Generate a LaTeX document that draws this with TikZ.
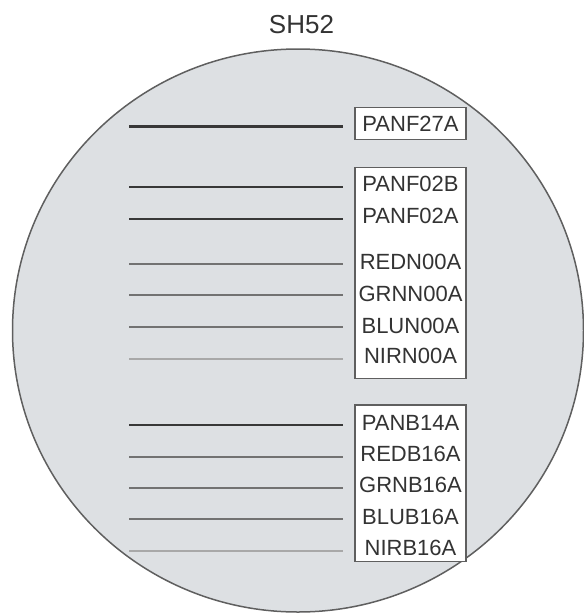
\documentclass[tikz,border=0pt]{standalone}
\usepackage{fontspec}
\setmainfont{Liberation Sans}
\definecolor{discfill}{HTML}{DDE0E3}
\definecolor{discedge}{HTML}{5F5F5F}
\definecolor{txtc}{HTML}{333333}
\definecolor{darkln}{HTML}{383838}
\definecolor{midln}{HTML}{727272}
\definecolor{lightln}{HTML}{A8A8A8}
\tikzset{
  disc/.style={draw=discedge, line width=1.5pt, fill=discfill},
  labbox/.style={draw=discedge, line width=1.2pt, fill=white, minimum width=111pt, inner sep=0pt},
  labtxt/.style={text=txtc, inner sep=0pt, font=\fontsize{22}{26}\selectfont},
  titletxt/.style={text=txtc, inner sep=0pt, font=\fontsize{26}{30}\selectfont},
  darkline/.style={draw=darkln, line width=2.4pt, shorten >=11pt},
  midline/.style={draw=midln, line width=2pt, shorten >=11pt},
  lightline/.style={draw=lightln, line width=1.8pt, shorten >=11pt},
}
\begin{document}
\begin{tikzpicture}[x=1pt,y=-1pt]
\useasboundingbox (0,0) rectangle (584,614);
\path[disc] (298,330.5) ellipse [x radius=285.5, y radius=281.5];
\node[titletxt, anchor=base] (title) at (301.5,33) {SH52};
% boxes
\node[labbox, minimum height=32pt] (boxA) at (410.5,123.3) {};
\node[labbox, minimum height=211pt] (boxB) at (410.5,272.8) {};
\node[labbox, minimum height=156.7pt] (boxC) at (410.5,483.3) {};
% labels
\node[labtxt] (t1) at (410.5,124) {PANF27A};
\node[labtxt] (t2) at (410.5,184) {PANF02B};
\node[labtxt] (t3) at (410.5,216) {PANF02A};
\node[labtxt] (t4) at (410.5,262) {REDN00A};
\node[labtxt] (t5) at (410.5,294) {GRNN00A};
\node[labtxt] (t6) at (410.5,325.5) {BLUN00A};
\node[labtxt] (t7) at (410.5,356) {NIRN00A};
\node[labtxt] (t8) at (410.5,423) {PANB14A};
\node[labtxt] (t9) at (410.5,453.7) {REDB16A};
\node[labtxt] (t10) at (410.5,484.5) {GRNB16A};
\node[labtxt] (t11) at (410.5,516.5) {BLUB16A};
\node[labtxt] (t12) at (410.5,548) {NIRB16A};
% line start points
\coordinate (l1) at (129,126.5);
\coordinate (l2) at (129,186.7);
\coordinate (l3) at (129,218.7);
\coordinate (l4) at (129,264);
\coordinate (l5) at (129,295.3);
\coordinate (l6) at (129,326.7);
\coordinate (l7) at (129,358.7);
\coordinate (l8) at (129,425);
\coordinate (l9) at (129,456.7);
\coordinate (l10) at (129,488);
\coordinate (l11) at (129,519.3);
\coordinate (l12) at (129,551.3);
% lines
\draw[darkline] (l1) -- (l1 -| boxA.west);
\draw[darkline] (l2) -- (l2 -| boxB.west);
\draw[darkline] (l3) -- (l3 -| boxB.west);
\draw[midline] (l4) -- (l4 -| boxB.west);
\draw[midline] (l5) -- (l5 -| boxB.west);
\draw[midline] (l6) -- (l6 -| boxB.west);
\draw[lightline] (l7) -- (l7 -| boxB.west);
\draw[darkline] (l8) -- (l8 -| boxC.west);
\draw[midline] (l9) -- (l9 -| boxC.west);
\draw[midline] (l10) -- (l10 -| boxC.west);
\draw[midline] (l11) -- (l11 -| boxC.west);
\draw[lightline] (l12) -- (l12 -| boxC.west);
\end{tikzpicture}
\end{document}
